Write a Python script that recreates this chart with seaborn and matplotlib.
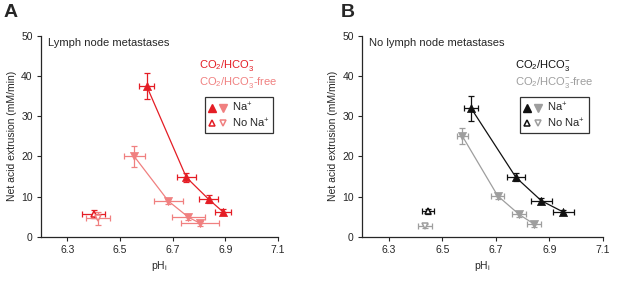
import numpy as np
import pandas as pd
import seaborn as sns
import matplotlib.pyplot as plt
from matplotlib.lines import Line2D
from matplotlib.legend_handler import HandlerTuple

#------------------------------------------------------------------------------#
# values
#------------------------------------------------------------------------------#

# Panel A: lymph node metastases
a_hco3_ph    = [6.601, 6.752, 6.837, 6.892]
a_hco3_ph_e  = [0.028, 0.036, 0.037, 0.03]
a_hco3_y     = [37.5, 14.8, 9.35, 6.2]
a_hco3_y_e   = [3.3, 1.2, 1.0, 0.8]
a_hco3_nona  = [6.40, 0.043, 5.6, 1.0]   # ph, ph err, y, y err

a_free_ph    = [6.554, 6.684, 6.760, 6.804]
a_free_ph_e  = [0.04, 0.054, 0.062, 0.073]
a_free_y     = [20.0, 8.9, 4.9, 3.4]
a_free_y_e   = [2.7, 0.6, 0.7, 0.6]
a_free_nona  = [6.416, 0.047, 4.6, 1.5]

# Panel B: no lymph node metastases
b_hco3_ph    = [6.607, 6.775, 6.870, 6.952]
b_hco3_ph_e  = [0.025, 0.034, 0.04, 0.04]
b_hco3_y     = [32.0, 14.8, 9.0, 6.2]
b_hco3_y_e   = [3.1, 1.0, 0.8, 0.6]
b_hco3_nona  = [6.445, 0.022, 6.4, 0.6]

b_free_ph    = [6.575, 6.707, 6.787, 6.843]
b_free_ph_e  = [0.02, 0.025, 0.025, 0.025]
b_free_y     = [25.0, 10.2, 5.6, 3.2]
b_free_y_e   = [2.0, 0.7, 0.7, 0.6]
b_free_nona  = [6.435, 0.025, 2.8, 0.5]

xticks = [6.3, 6.5, 6.7, 6.9, 7.1]
yticks = [0, 10, 20, 30, 40, 50]

#------------------------------------------------------------------------------#

sns.set_style('ticks')
plt.rcParams['font.family'] = ['Liberation Sans', 'DejaVu Sans']
plt.rcParams['mathtext.default'] = 'regular'
plt.rcParams['font.size'] = 7.5

HCO3 = r'CO$_2$/HCO$_3^{-}$'


def draw_panel(ax, hco3, free, nona_h, nona_f, c1, c2, title, tx, lx):
    for (ph, phe, y, ye), col, mk in [(hco3, c1, '^'), (free, c2, 'v')]:
        df = pd.DataFrame({'ph': ph, 'y': y})
        sns.lineplot(data=df, x='ph', y='y', color=col, lw=0.9, ax=ax,
                     sort=False)
        ax.errorbar(ph, y, xerr=phe, yerr=ye, fmt='none', ecolor=col,
                    elinewidth=0.9, capsize=2.5, capthick=0.9)
        sns.scatterplot(data=df, x='ph', y='y', marker=mk, color=col,
                        edgecolor=col, s=34, linewidth=0.5, ax=ax, zorder=5)

    for (ph, phe, y, ye), col, mk in [(nona_h, c1, '^'), (nona_f, c2, 'v')]:
        ax.errorbar([ph], [y], xerr=[phe], yerr=[ye], fmt='none', ecolor=col,
                    elinewidth=0.9, capsize=2.5, capthick=0.9)
        ax.plot([ph], [y], marker=mk, ms=5, mfc='white', mec=col, mew=1.1,
                ls='none', zorder=5)

    ax.set_xlim(6.2, 7.1)
    ax.set_ylim(0, 50)
    ax.set_xticks(xticks)
    ax.set_yticks(yticks)
    ax.set_xlabel(r'pH$_i$', fontsize=7.5, labelpad=3)
    ax.set_ylabel('Net acid extrusion (mM/min)', fontsize=7.5, labelpad=3)
    ax.tick_params(labelsize=7.5, length=3, width=0.8, pad=3)
    for s in ['left', 'bottom']:
        ax.spines[s].set_linewidth(0.9)
    sns.despine(ax=ax)

    ax.text(0.03, 0.965, title, transform=ax.transAxes, fontsize=8,
            va='center')
    ax.text(tx, 0.85, HCO3, transform=ax.transAxes, color=c1,
            fontsize=8, va='center')
    ax.text(tx, 0.765, HCO3 + '-free', transform=ax.transAxes, color=c2,
            fontsize=8, va='center')

    h_na = (Line2D([], [], marker='^', ls='none', color=c1, ms=5.5),
            Line2D([], [], marker='v', ls='none', color=c2, ms=5.5))
    h_no = (Line2D([], [], marker='^', ls='none', mfc='white', mec=c1,
                   mew=1.1, ms=5),
            Line2D([], [], marker='v', ls='none', mfc='white', mec=c2,
                   mew=1.1, ms=5))
    leg = ax.legend([h_na, h_no], ['Na$^{+}$', 'No Na$^{+}$'],
                    handler_map={tuple: HandlerTuple(ndivide=None, pad=0.3)},
                    loc='upper left', bbox_to_anchor=(lx, 0.695),
                    fontsize=8, frameon=True, fancybox=False,
                    handlelength=1.6, handletextpad=0.5, borderpad=0.35,
                    labelspacing=0.2, borderaxespad=0)
    leg.get_frame().set_edgecolor('black')
    leg.get_frame().set_linewidth(0.9)


fig = plt.figure(figsize=(6.17, 2.81), dpi=100)
axA = fig.add_axes([0.0665, 0.1566, 0.384, 0.717])
axB = fig.add_axes([0.587, 0.1566, 0.390, 0.717])

draw_panel(axA, (a_hco3_ph, a_hco3_ph_e, a_hco3_y, a_hco3_y_e),
           (a_free_ph, a_free_ph_e, a_free_y, a_free_y_e),
           a_hco3_nona, a_free_nona, '#e41d25', '#f08080',
           'Lymph node metastases', 0.665, 0.69)
draw_panel(axB, (b_hco3_ph, b_hco3_ph_e, b_hco3_y, b_hco3_y_e),
           (b_free_ph, b_free_ph_e, b_free_y, b_free_y_e),
           b_hco3_nona, b_free_nona, '#111111', '#9e9e9e',
           'No lymph node metastases', 0.635, 0.655)

fig.text(0.005, 0.955, 'A', fontsize=14, fontweight='bold', va='center')
fig.text(0.553, 0.955, 'B', fontsize=14, fontweight='bold', va='center')

plt.savefig('out.png', dpi=100)
